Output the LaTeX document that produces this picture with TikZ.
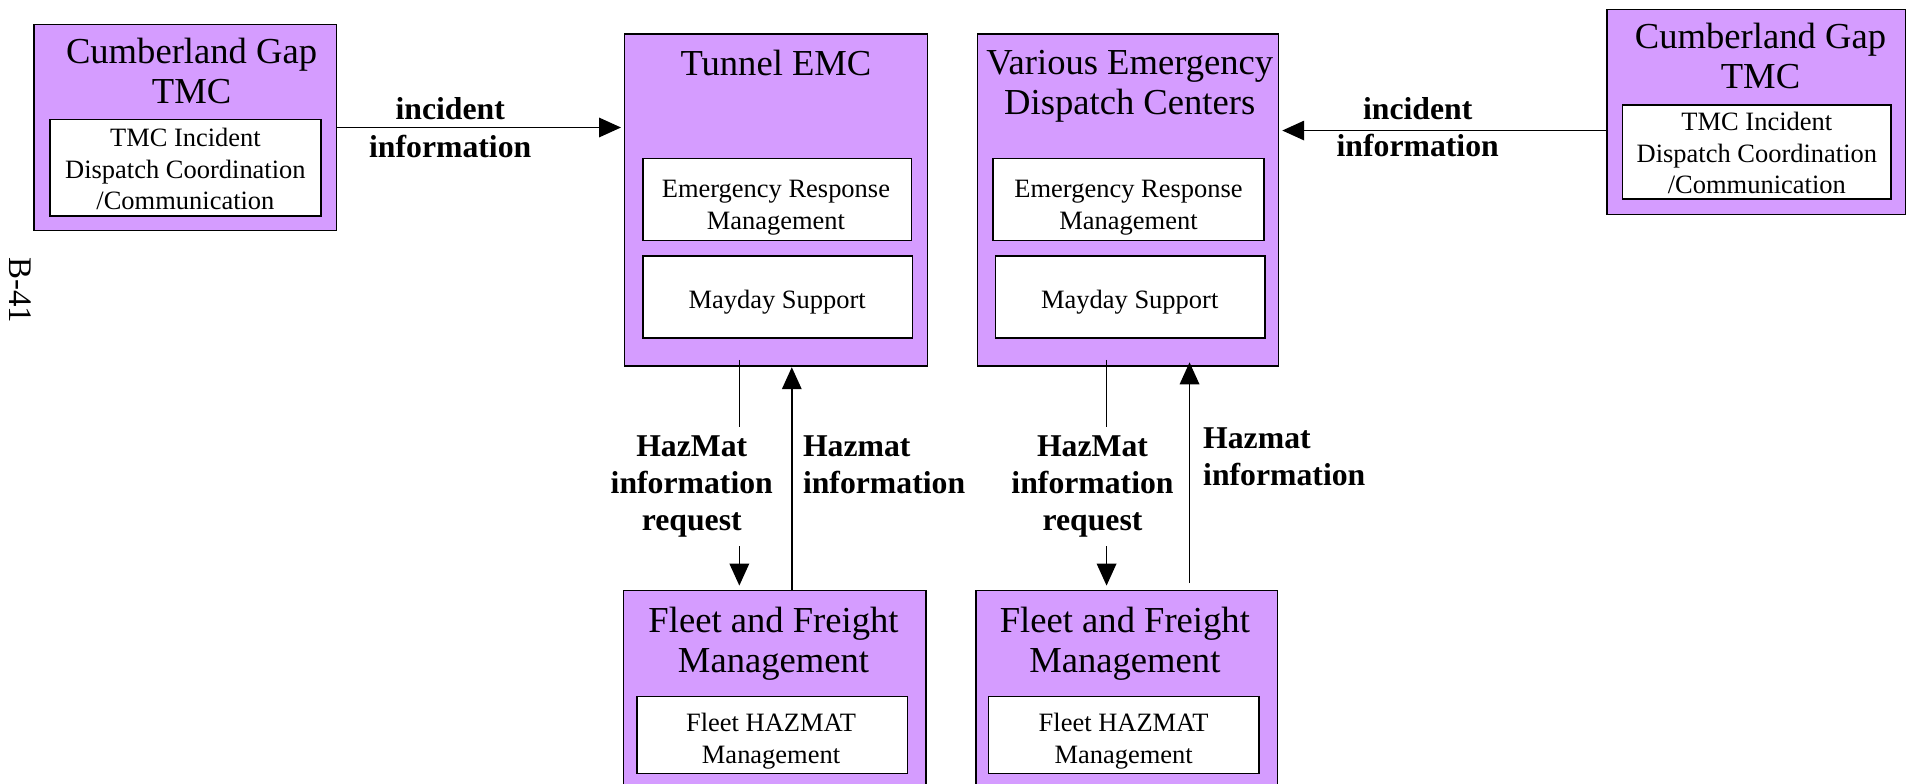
\documentclass[tikz,border=0pt]{standalone}
\usepackage{fontspec}
\setmainfont{Liberation Serif}
\usetikzlibrary{arrows.meta,calc}
\definecolor{boxpurple}{RGB}{213,156,255}
\begin{document}
\begin{tikzpicture}[x=1pt,y=-1pt,
  outerbox/.style={draw=black,line width=1.2pt,fill=boxpurple,anchor=north west,inner sep=0pt,outer sep=0pt},
  innerbox/.style={draw=black,line width=1.2pt,fill=white,anchor=north west,inner sep=0pt,outer sep=0pt},
  titletext/.style={font=\fontsize{30}{33}\selectfont,align=center,inner sep=0pt},
  boxtext/.style={font=\fontsize{21.7}{26}\selectfont,align=center,inner sep=0pt},
  flowlabel/.style={font=\bfseries\fontsize{26}{30.5}\selectfont,align=center,inner sep=0pt},
  flowlabelL/.style={font=\bfseries\fontsize{26}{30.5}\selectfont,align=left,inner sep=0pt,anchor=west},
  arr/.style={line width=1.3pt,-{Triangle[length=18pt,width=16pt]}},
  plain/.style={line width=1.3pt},
]
\useasboundingbox (0,0) rectangle (1568,642);
\clip (0,0) rectangle (1568,642);

% Left Cumberland Gap TMC
\node[outerbox,minimum width=248pt,minimum height=169pt] (cgL) at (28,20) {};
\node[innerbox,minimum width=222pt,minimum height=79pt] (cgLin) at (41,98) {};
\node[titletext] (cgLtitle) at (157,58.2) {Cumberland Gap\\TMC};
\node[boxtext] (cgLtext) at (152,138.5) {TMC Incident\\Dispatch Coordination\\/Communication};

% Tunnel EMC
\node[outerbox,minimum width=248pt,minimum height=272pt] (tunnel) at (512,28) {};
\node[titletext,anchor=base] (tunneltitle) at (636,62) {Tunnel EMC};
\node[innerbox,minimum width=220pt,minimum height=67pt] (tunnelerm) at (527,130) {};
\node[boxtext] (tunnelermtext) at (636,170) {Emergency Response\\Management};
\node[innerbox,minimum width=221pt,minimum height=67pt] (tunnelmay) at (527,210) {};
\node[boxtext,anchor=base] (tunnelmaytext) at (637,253) {Mayday Support};

% Various Emergency Dispatch Centers
\node[outerbox,minimum width=247pt,minimum height=272pt] (vedc) at (801,28) {};
\node[titletext] (vedctitle) at (926,70.8) {Various Emergency\\Dispatch Centers};
\node[innerbox,minimum width=222pt,minimum height=67pt] (vedcerm) at (814,130) {};
\node[boxtext] (vedcermtext) at (925,170) {Emergency Response\\Management};
\node[innerbox,minimum width=221pt,minimum height=67pt] (vedcmay) at (816,210) {};
\node[boxtext,anchor=base] (vedcmaytext) at (926,253) {Mayday Support};

% Right Cumberland Gap TMC
\node[outerbox,minimum width=245pt,minimum height=168pt] (cgR) at (1317,8) {};
\node[innerbox,minimum width=220pt,minimum height=77pt] (cgRin) at (1330,86) {};
\node[titletext] (cgRtitle) at (1443,45.6) {Cumberland Gap\\TMC};
\node[boxtext] (cgRtext) at (1440,125.5) {TMC Incident\\Dispatch Coordination\\/Communication};

% Fleet and Freight Management (left)
\node[outerbox,minimum width=248pt,minimum height=200pt] (fleetL) at (511,484) {};
\node[titletext] (fleetLtitle) at (634,527.4) {Fleet and Freight\\Management};
\node[innerbox,minimum width=222pt,minimum height=63pt] (fleetLin) at (522,571) {};
\node[boxtext] (fleetLtext) at (632,607.5) {Fleet HAZMAT\\Management};

% Fleet and Freight Management (right)
\node[outerbox,minimum width=247pt,minimum height=200pt] (fleetR) at (800,484) {};
\node[titletext] (fleetRtitle) at (922,527.4) {Fleet and Freight\\Management};
\node[innerbox,minimum width=222pt,minimum height=63pt] (fleetRin) at (810,571) {};
\node[boxtext] (fleetRtext) at (921,607.5) {Fleet HAZMAT\\Management};

% labels
\node[flowlabel] (incL) at (369,104.6) {incident\\information};
\node[flowlabel] (incR) at (1162,104) {incident\\information};
\node[flowlabel,inner ysep=7pt] (reqL) at (567,398.9) {HazMat\\information\\request};
\node[flowlabel,inner ysep=7pt] (reqR) at (895.5,398.9) {HazMat\\information\\request};
\node[flowlabelL] (infoL) at (658,380.7) {Hazmat\\information};
\node[flowlabelL] (infoR) at (986,374.7) {Hazmat\\information};

% page number
\node[font=\fontsize{27}{30}\selectfont,rotate=-90,inner sep=0pt] (pagenum) at (17,238) {B-41};

% connectors
\draw[arr,shorten >=3pt] (cgL.east) -- (cgL.east -| tunnel.west);
\coordinate (incRstart) at ([yshift=-15pt]cgR.west);
\draw[arr,shorten >=3pt] (incRstart) -- (incRstart -| vedc.east);

\coordinate (reqLtop) at ([xshift=-30pt,yshift=5pt]tunnel.south);
\draw[plain] (reqLtop) -- (reqLtop |- reqL.north);
\draw[arr,shorten >=4pt] (reqLtop |- reqL.south) -- (reqLtop |- fleetL.north);
\coordinate (infoLx) at ([xshift=13pt]tunnel.south);
\draw[arr,shorten >=1pt] (infoLx |- fleetL.north) -- (infoLx);

\coordinate (reqRtop) at ([xshift=-17.5pt,yshift=5pt]vedc.south);
\draw[plain] (reqRtop) -- (reqRtop |- reqR.north);
\draw[arr,shorten >=4pt] (reqRtop |- reqR.south) -- (reqRtop |- fleetR.north);
\coordinate (infoRx) at ([xshift=50.5pt,yshift=3pt]vedc.south);
\draw[arr,shorten <=6pt] (infoRx |- fleetR.north) -- (infoRx);
\end{tikzpicture}
\end{document}
